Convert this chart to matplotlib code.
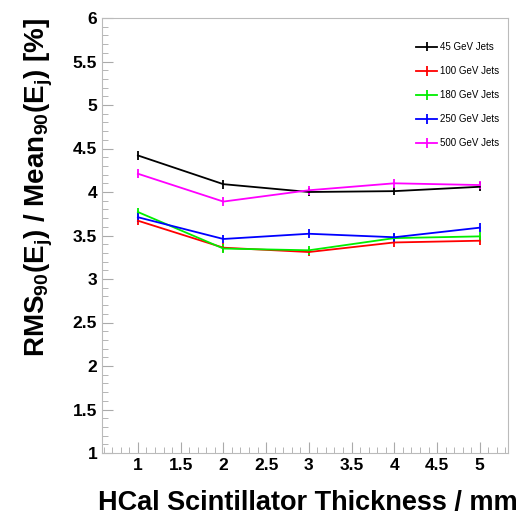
import matplotlib
matplotlib.use('Agg')
from matplotlib import pyplot as plt
from matplotlib.ticker import MultipleLocator

thickness = [1, 2, 3, 4, 5]
labels = ['45 GeV Jets', '100 GeV Jets', '180 GeV Jets', '250 GeV Jets', '500 GeV Jets']
colors = ['black', '#ff0000', '#00ee00', '#0000ff', '#ff00ff']

res_45 = [4.42, 4.09, 4.00, 4.01, 4.06]
res_100 = [3.67, 3.36, 3.31, 3.42, 3.44]
res_180 = [3.77, 3.35, 3.33, 3.47, 3.49]
res_250 = [3.71, 3.46, 3.52, 3.48, 3.59]
res_500 = [4.21, 3.89, 4.02, 4.10, 4.08]
err = [0.05, 0.05, 0.05, 0.05, 0.05]

series = [res_45, res_100, res_180, res_250, res_500]

plt.rcParams['font.family'] = ['Liberation Sans', 'DejaVu Sans']
plt.rcParams['mathtext.fontset'] = 'custom'
plt.rcParams['mathtext.rm'] = 'Liberation Sans:bold'
plt.rcParams['mathtext.it'] = 'Liberation Sans:bold'
plt.rcParams['mathtext.bf'] = 'Liberation Sans:bold'

fig = plt.figure(figsize=(5.19, 5.25), dpi=100)
ax = fig.add_axes([102/519, 1-453/525, 406/519, 435/525])

for vals, lab, col in zip(series, labels, colors):
    ax.errorbar(thickness, vals, yerr=err, color=col, lw=1.3, elinewidth=1.3, capsize=0, label=lab)

ax.set_xlim(0.58, 5.33)
ax.set_ylim(1, 6)
ax.xaxis.set_minor_locator(MultipleLocator(0.1))
ax.yaxis.set_minor_locator(MultipleLocator(0.1))
ax.set_xticks([1, 1.5, 2, 2.5, 3, 3.5, 4, 4.5, 5])
ax.set_xticklabels(['1', '1.5', '2', '2.5', '3', '3.5', '4', '4.5', '5'])
ax.set_yticks([1, 1.5, 2, 2.5, 3, 3.5, 4, 4.5, 5, 5.5, 6])
ax.set_yticklabels(['1', '1.5', '2', '2.5', '3', '3.5', '4', '4.5', '5', '5.5', '6'])
ax.tick_params(which='both', direction='in', color='#aaaaaa', labelsize=12.5)
ax.tick_params(which='major', length=8)
ax.tick_params(which='minor', length=4)
for lbl in ax.get_xticklabels() + ax.get_yticklabels():
    lbl.set_fontweight('bold')
for s in ax.spines.values():
    s.set_color('#bbbbbb')

ax.set_xlabel('HCal Scintillator Thickness / mm', fontsize=19.5, fontweight='bold')
ax.xaxis.set_label_coords((308-102)/406, -(490-453)/435)
ax.set_ylabel(r'RMS$_{90}$(E$_{j}$) / Mean$_{90}$(E$_{j}$) [%]', fontsize=20, fontweight='bold', loc='top')
ax.yaxis.set_label_coords(-(102-55)/406, 1.0)

leg = ax.legend(loc='upper right', bbox_to_anchor=(1.0, 0.965), fontsize=7, frameon=False,
                handlelength=2.2, handletextpad=0.3, labelspacing=1.45)

fig.savefig('out.png', dpi=100)
